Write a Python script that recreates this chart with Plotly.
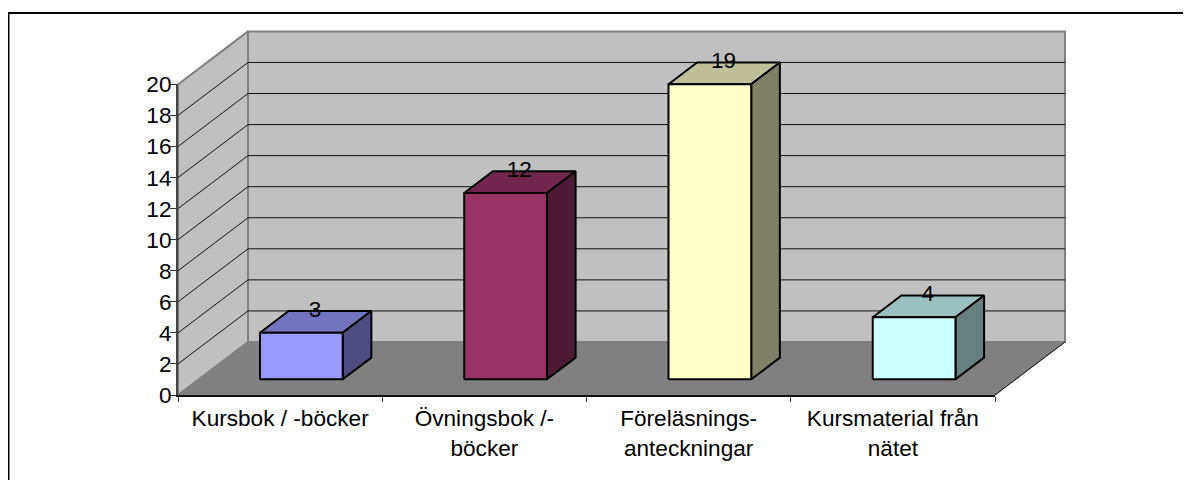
import plotly.graph_objects as go

categories = ['Kursbok / -böcker', 'Övningsbok /-<br>böcker', 'Föreläsnings-<br>anteckningar', 'Kursmaterial från<br>nätet']
values = [3, 12, 19, 4]
front_colors = ['#9999FF', '#993366', '#FFFFCC', '#CCFFFF']
top_colors = ['#7373BF', '#73264D', '#BFBF99', '#99BFBF']
side_colors = ['#4D4D80', '#4D1A33', '#808066', '#668080']
y_ticks = list(range(0, 21, 2))

# page body adds 8px, so the figure is 8px smaller than the window
FIG_W, FIG_H = 1183, 472
ORIGIN_X, ORIGIN_Y = 170, 387  # where category 0 / value 0 lands in the figure
UNIT_X, UNIT_Y = 204.25, 15.53  # px per category, px per value
FONT_SIZE = 22.6

# oblique projection of the 3D box, in axis units
DEPTH_X = 70 / UNIT_X
DEPTH_Y = 53 / UNIT_Y
BAR_LEFT, BAR_RIGHT = 0.30, 0.705
BAR_FRONT, BAR_BACK = 0.296, 0.705


def project(u, v, d):
    return u + d * DEPTH_X, v + d * DEPTH_Y


def add_poly(fig, corners, fill, line_color, line_width):
    pts = [project(*c) for c in corners]
    pts.append(pts[0])
    fig.add_trace(go.Scatter(
        x=[p[0] for p in pts],
        y=[p[1] for p in pts],
        mode='lines',
        fill='toself',
        fillcolor=fill,
        line=dict(color=line_color, width=line_width),
        hoverinfo='skip',
        showlegend=False
    ))


def add_line(fig, corners, color, width):
    pts = [project(*c) for c in corners]
    fig.add_trace(go.Scatter(
        x=[p[0] for p in pts],
        y=[p[1] for p in pts],
        mode='lines',
        line=dict(color=color, width=width),
        hoverinfo='skip',
        showlegend=False
    ))


fig = go.Figure()
n = len(categories)
top = y_ticks[-1]

# walls and floor
add_poly(fig, [(0, 0, 0), (0, top, 0), (0, top, 1), (0, 0, 1)], '#C0C0C0', '#808080', 2)
add_poly(fig, [(0, 0, 1), (n, 0, 1), (n, top, 1), (0, top, 1)], '#C0C0C0', '#808080', 2)
add_poly(fig, [(0, 0, 0), (n, 0, 0), (n, 0, 1), (0, 0, 1)], '#808080', '#808080', 1)

# gridlines run along the side wall and the back wall
for v in y_ticks[1:-1]:
    add_line(fig, [(0, v, 0), (0, v, 1), (n, v, 1)], '#111111', 1)
add_line(fig, [(n, 0, 0), (n, 0, 1)], '#111111', 1)

# bars
for i, val in enumerate(values):
    l, r = i + BAR_LEFT, i + BAR_RIGHT
    f, b = BAR_FRONT, BAR_BACK
    add_poly(fig, [(l, val, f), (r, val, f), (r, val, b), (l, val, b)], top_colors[i], '#000000', 2)
    add_poly(fig, [(r, 0, f), (r, val, f), (r, val, b), (r, 0, b)], side_colors[i], '#000000', 2)
    add_poly(fig, [(l, 0, f), (r, 0, f), (r, val, f), (l, val, f)], front_colors[i], '#000000', 2)

# value labels: centred over the bar, level with the back edge of its top
fig.add_trace(go.Scatter(
    x=[project(i + 0.5, val, 0.5)[0] for i, val in enumerate(values)],
    y=[project(i + 0.5, val, BAR_BACK)[1] for i, val in enumerate(values)],
    mode='text',
    text=[str(v) for v in values],
    textposition='middle center',
    textfont=dict(family='Liberation Sans', size=FONT_SIZE, color='#000000'),
    hoverinfo='skip',
    showlegend=False
))

# keeps the visible axes (x2/y2) alive
fig.add_trace(go.Scatter(
    x=[i + 0.5 for i in range(n)],
    y=values,
    xaxis='x2',
    yaxis='y2',
    mode='none',
    hoverinfo='skip',
    showlegend=False
))

fig.update_layout(
    width=FIG_W,
    height=FIG_H,
    margin=dict(l=0, r=0, t=0, b=0, autoexpand=False),
    paper_bgcolor='#FFFFFF',
    plot_bgcolor='rgba(0,0,0,0)',
    font=dict(family='Liberation Sans', size=FONT_SIZE, color='#000000'),
    showlegend=False,
    # full canvas axes for the 3D box, same units as x2/y2
    xaxis=dict(
        domain=[0, 1],
        range=[-ORIGIN_X / UNIT_X, (FIG_W - ORIGIN_X) / UNIT_X],
        visible=False
    ),
    yaxis=dict(
        domain=[0, 1],
        range=[(ORIGIN_Y - FIG_H) / UNIT_Y, ORIGIN_Y / UNIT_Y],
        visible=False
    ),
    xaxis2=dict(
        domain=[ORIGIN_X / FIG_W, (ORIGIN_X + n * UNIT_X) / FIG_W],
        anchor='y2',
        range=[0, n],
        tickmode='array',
        tickvals=[i + 0.5 for i in range(n)],
        ticktext=categories,
        ticks='',
        showgrid=False,
        zeroline=False,
        showline=True,
        linecolor='#111111',
        linewidth=2,
        ticklabelstandoff=2,
        minor=dict(tickmode='array', tickvals=list(range(n + 1)), ticks='outside', ticklen=5,
                   tickwidth=1, tickcolor='#333333', showgrid=False)
    ),
    yaxis2=dict(
        domain=[(FIG_H - ORIGIN_Y) / FIG_H, (FIG_H - ORIGIN_Y + top * UNIT_Y) / FIG_H],
        anchor='x2',
        range=[0, top],
        tickmode='array',
        tickvals=y_ticks,
        ticks='outside',
        ticklen=6,
        tickwidth=1,
        tickcolor='#333333',
        ticklabelstandoff=-6,
        showgrid=False,
        zeroline=False,
        showline=True,
        linecolor='#444444',
        linewidth=2
    ),
    # only the top and left of the chart frame fall inside the page
    shapes=[dict(
        type='rect', xref='paper', yref='paper', layer='below',
        x0=0.5 / FIG_W, x1=(FIG_W + 20) / FIG_W,
        y0=-20 / FIG_H, y1=(FIG_H - 5) / FIG_H,
        line=dict(color='#000000', width=2), fillcolor='#FFFFFF'
    )]
)

fig.write_html("out.html")
